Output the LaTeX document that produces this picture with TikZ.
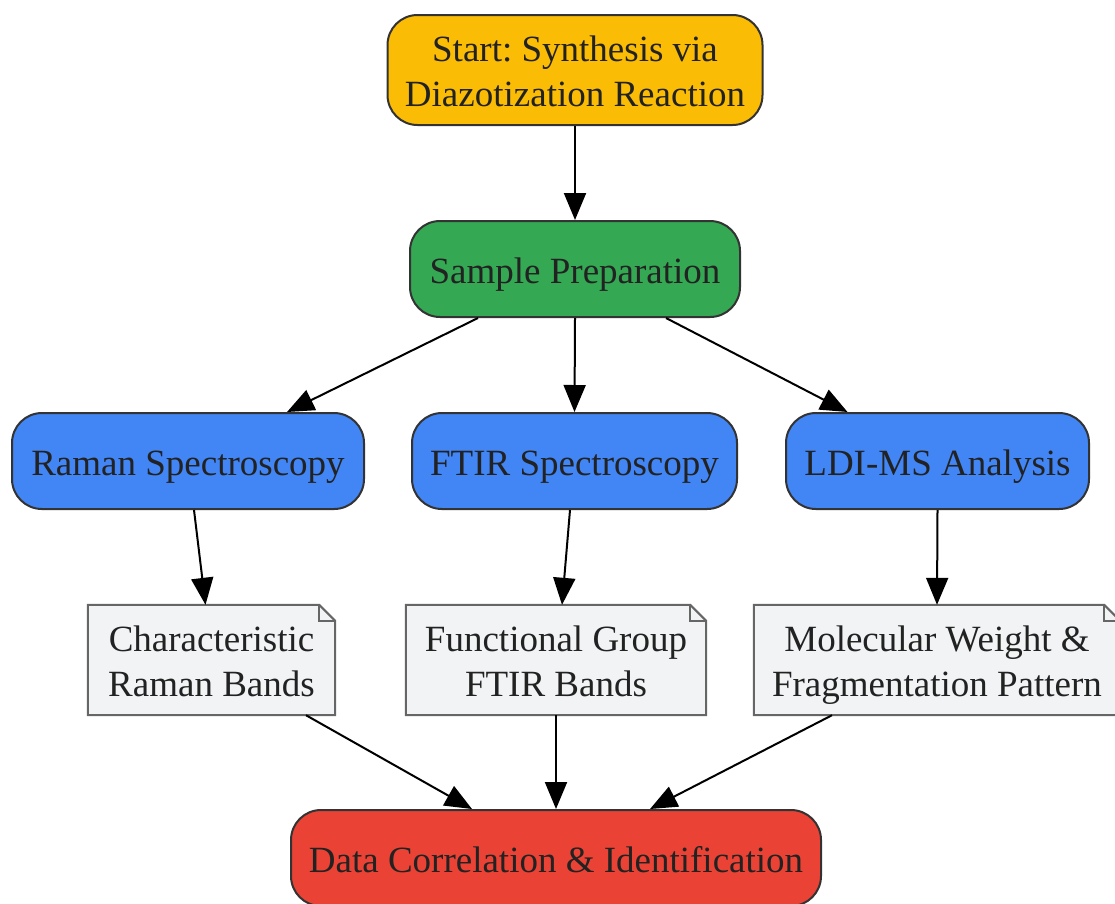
\documentclass[tikz,border=0pt]{standalone}
\usepackage{fontspec}
\setmainfont{Liberation Serif}
\frenchspacing
\usetikzlibrary{arrows.meta,calc}
\definecolor{cyellow}{HTML}{FBBC05}
\definecolor{cgreen}{HTML}{34A853}
\definecolor{cblue}{HTML}{4285F4}
\definecolor{cred}{HTML}{EA4335}
\definecolor{cnote}{HTML}{F1F3F4}
\definecolor{cnoteline}{HTML}{666666}
\definecolor{cborder}{HTML}{333333}
\definecolor{ctext}{HTML}{222222}
\newcommand{\st}{\rule[-8.5pt]{0pt}{45pt}}
\tikzset{
  proc/.style={draw=cborder, line width=2pt, rounded corners=30pt, inner sep=0pt,
    text=ctext, align=center, font=\fontsize{37}{45}\selectfont},
  notebox/.style={inner sep=0pt, text=ctext, align=center, font=\fontsize{37}{45}\selectfont},
  notepath/.style={draw=cnoteline, fill=cnote, line width=2pt},
  conn/.style={line width=2pt, -{Triangle[length=27pt,width=22pt]}},
}
\newcommand{\drawnote}[1]{%
  \path[notepath] (#1.north west) -- ([xshift=-16pt]#1.north east) -- ([yshift=-16pt]#1.north east) -- (#1.south east) -- (#1.south west) -- cycle;
  \draw[cnoteline, line width=2pt] ([xshift=-16pt]#1.north east) -- ([xshift=-16pt,yshift=-16pt]#1.north east) -- ([yshift=-16pt]#1.north east);
}
\begin{document}
\begin{tikzpicture}[x=1pt,y=-1pt]
\useasboundingbox (0,0) rectangle (1115,903);
\node[proc, fill=cyellow, minimum width=375pt, minimum height=110pt] (start) at (575,70) {\st Start: Synthesis via\\\st Diazotization Reaction};
\node[proc, fill=cgreen, minimum width=330pt, minimum height=96pt] (prep) at (575,269) {\st Sample Preparation};
\node[proc, fill=cblue, minimum width=352pt, minimum height=96pt] (raman) at (188,461) {\st Raman Spectroscopy};
\node[proc, fill=cblue, minimum width=325pt, minimum height=96pt] (ftir) at (574.5,461) {\st FTIR Spectroscopy};
\node[proc, fill=cblue, minimum width=303pt, minimum height=96pt] (ldi) at (937.5,461) {\st LDI-MS Analysis};

\node[notebox, minimum width=247pt, minimum height=110pt] (rb) at (211.5,660) {};
\drawnote{rb}
\node[notebox] at (rb) {\st Characteristic\\\st Raman Bands};
\node[notebox, minimum width=300pt, minimum height=110pt] (fb) at (556,660) {};
\drawnote{fb}
\node[notebox] at (fb) {\st Functional Group\\\st FTIR Bands};
\node[notebox, minimum width=366pt, minimum height=110pt] (mw) at (937,660) {};
\drawnote{mw}
\node[notebox] at (mw) {\st Molecular Weight \&\\\st Fragmentation Pattern};

\node[proc, fill=cred, minimum width=530pt, minimum height=96pt] (data) at (556,858) {\st Data Correlation \& Identification};

\draw[conn] (start.south) -- (prep.north);
\draw[conn] ([xshift=-97pt]prep.south) -- ([xshift=99pt]raman.north);
\draw[conn] (prep.south) -- (ftir.north);
\draw[conn] ([xshift=91pt]prep.south) -- ([xshift=-90pt]ldi.north);
\draw[conn] ([xshift=6pt]raman.south) -- ([xshift=-6pt]rb.north);
\draw[conn] ([xshift=-4.5pt]ftir.south) -- ([xshift=6pt]fb.north);
\draw[conn] (ldi.south) -- (mw.north);
\draw[conn] ([xshift=94.5pt]rb.south) -- ([xshift=-84pt]data.north);
\draw[conn] (fb.south) -- (data.north);
\draw[conn] ([xshift=-105pt]mw.south) -- ([xshift=94pt]data.north);
\end{tikzpicture}
\end{document}
